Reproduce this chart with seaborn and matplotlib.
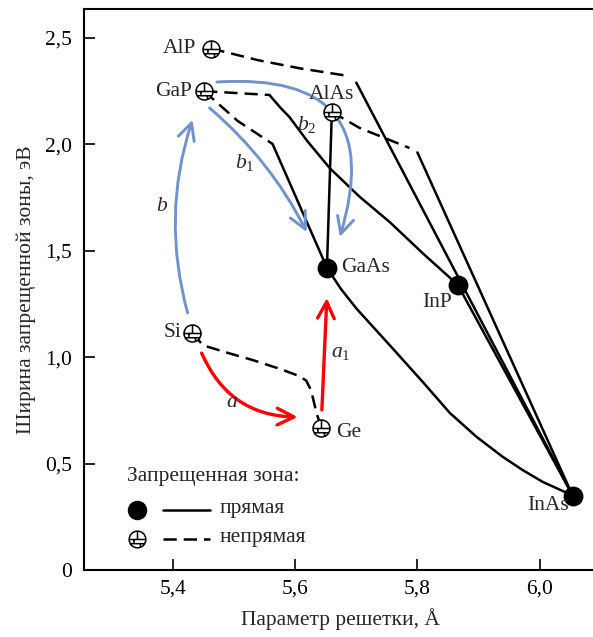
import numpy as np
import matplotlib
matplotlib.use("Agg")
import matplotlib.pyplot as plt
from matplotlib.path import Path
import seaborn as sns

# compounds: lattice constant (A) and band gap (eV)
compounds = ["AlP", "GaP", "AlAs", "GaAs", "InP", "InAs", "Si", "Ge"]
lattice = [5.463, 5.451, 5.660, 5.652, 5.866, 6.054, 5.432, 5.643]
gap = [2.45, 2.25, 2.152, 1.42, 1.34, 0.35, 1.114, 0.667]
direct = [False, False, False, True, True, True, False, False]

# alloy curves: dashed = indirect part, solid = direct part
alp_inas_ind_x = [5.463, 5.540, 5.608, 5.690]
alp_inas_ind_y = [2.45, 2.395, 2.357, 2.32]
alp_inas_dir_x = [5.700, 6.054]
alp_inas_dir_y = [2.29, 0.35]

gap_inp_ind_x = [5.451, 5.558]
gap_inp_ind_y = [2.25, 2.232]
gap_inp_dir_x = [5.558, 5.575, 5.591, 5.620, 5.657, 5.705, 5.755, 5.810, 5.866]
gap_inp_dir_y = [2.232, 2.175, 2.127, 2.015, 1.887, 1.755, 1.634, 1.485, 1.34]

gap_gaas_ind_x = [5.451, 5.506, 5.563]
gap_gaas_ind_y = [2.25, 2.11, 2.002]
gap_gaas_dir_x = [5.563, 5.652]
gap_gaas_dir_y = [2.002, 1.42]

alas_gaas_x = [5.660, 5.652]
alas_gaas_y = [2.152, 1.42]

alas_inas_ind_x = [5.660, 5.7055, 5.787]
alas_inas_ind_y = [2.152, 2.077, 1.983]
alas_inas_dir_x = [5.800, 6.054]
alas_inas_dir_y = [1.962, 0.35]

gaas_inas_x = [5.652, 5.675, 5.701, 5.7545, 5.809, 5.853, 5.897, 5.940, 5.972, 6.005, 6.054]
gaas_inas_y = [1.42, 1.32, 1.226, 1.057, 0.883, 0.738, 0.625, 0.531, 0.470, 0.414, 0.35]

inp_inas_x = [5.866, 6.054]
inp_inas_y = [1.34, 0.35]

si_ge_x = [5.432, 5.449, 5.490, 5.531, 5.575, 5.606, 5.618, 5.626, 5.635, 5.643]
si_ge_y = [1.114, 1.056, 1.020, 0.986, 0.945, 0.912, 0.890, 0.845, 0.737, 0.667]

# arrows: (start, end, rad, color, label, label position)
BLUE = "#7093cd"
RED = "#ff0000"
arrows = [
    ((5.424, 1.208), (5.432, 2.115), -0.15, BLUE, "$b$", (5.3815, 1.706)),
    ((5.460, 2.171), (5.619, 1.588), -0.10, BLUE, "$b_1$", (5.517, 1.913)),
    ((5.472, 2.293), (5.673, 1.565), -0.72, BLUE, "$b_2$", (5.619, 2.091)),
    ((5.447, 1.019), (5.604, 0.719), 0.32, RED, "$a$", (5.496, 0.789)),
    ((5.6437, 0.752), (5.6518, 1.278), 0.0, RED, "$a_1$", (5.674, 1.020)),
]

# label offsets (points) for compound names
label_offsets = {
    "AlP": (-11, 0, "right"), "GaP": (-8.5, 0, "right"), "AlAs": (0, 12.5, "center"),
    "GaAs": (10.5, 0, "left"), "InP": (-15, -13, "center"), "InAs": (-3, -7, "right"),
    "Si": (-8, 0, "right"), "Ge": (10.5, -3, "left"),
}

sns.set_style("ticks")
plt.rcParams["font.family"] = ["Liberation Serif", "DejaVu Serif"]
plt.rcParams["mathtext.fontset"] = "custom"
plt.rcParams["mathtext.rm"] = "Liberation Serif"
plt.rcParams["mathtext.it"] = "Liberation Serif:italic"
FS = 15.5

# brick-pattern marker for indirect gap
circ = Path.unit_circle()
verts = list(circ.vertices)
codes = list(circ.codes)
for a, b in [((-1, 0), (1, 0)), ((0, 0), (0, 1)), ((-0.87, -0.5), (0.87, -0.5)),
             ((-0.42, 0), (-0.42, -0.5)), ((0.35, -0.5), (0.35, -0.94))]:
    verts += [a, b]
    codes += [Path.MOVETO, Path.LINETO]
brick = Path(verts, codes)

fig = plt.figure(figsize=(5.93, 6.37), dpi=100)
ax = fig.add_axes([84 / 593, 67 / 637, 509 / 593, 561 / 637])

LW = 1.8
DASH = (0, (5.3, 2.8))
solid = [(alp_inas_dir_x, alp_inas_dir_y), (gap_inp_dir_x, gap_inp_dir_y),
         (gap_gaas_dir_x, gap_gaas_dir_y), (alas_gaas_x, alas_gaas_y),
         (alas_inas_dir_x, alas_inas_dir_y), (gaas_inas_x, gaas_inas_y),
         (inp_inas_x, inp_inas_y)]
dashed = [(alp_inas_ind_x, alp_inas_ind_y), (gap_inp_ind_x, gap_inp_ind_y),
          (gap_gaas_ind_x, gap_gaas_ind_y), (alas_inas_ind_x, alas_inas_ind_y),
          (si_ge_x, si_ge_y)]
for xs, ys in solid:
    sns.lineplot(x=xs, y=ys, sort=False, estimator=None, color="black", lw=LW, ax=ax, zorder=2)
for xs, ys in dashed:
    sns.lineplot(x=xs, y=ys, sort=False, estimator=None, color="black", lw=LW,
                 linestyle=DASH, ax=ax, zorder=2)

# arrows
for (x0, y0), (x1, y1), rad, col, lab, (lx, ly) in arrows:
    ax.annotate("", xy=(x1, y1), xytext=(x0, y0),
                arrowprops=dict(arrowstyle="->,head_length=0.8,head_width=0.4",
                                connectionstyle=f"arc3,rad={rad}", color=col,
                                lw=2.1 if col == BLUE else 2.4, shrinkA=0, shrinkB=0,
                                mutation_scale=15), zorder=3)
    ax.text(lx, ly, lab, fontsize=FS, ha="center", va="center")

# points
dx = [x for x, d in zip(lattice, direct) if d]
dy = [y for y, d in zip(gap, direct) if d]
ix = [x for x, d in zip(lattice, direct) if not d]
iy = [y for y, d in zip(gap, direct) if not d]
sns.scatterplot(x=dx, y=dy, s=175, color="black", edgecolor="black", ax=ax, zorder=4)
sns.scatterplot(x=ix, y=iy, s=150, marker=brick, color="white", edgecolor="black",
                linewidth=1.1, ax=ax, zorder=4)

for name, x, y in zip(compounds, lattice, gap):
    ox, oy, ha = label_offsets[name]
    ax.annotate(name, (x, y), xytext=(ox, oy), textcoords="offset points",
                ha=ha, va="center", fontsize=FS, zorder=5)

# legend (drawn by hand)
ax.text(0.0845, 0.166, "Запрещенная зона:", transform=ax.transAxes, fontsize=FS,
        ha="left", va="center")
ax.plot([0.104], [0.107], transform=ax.transAxes, marker="o", ms=13, color="black", ls="none")
ax.plot([0.155, 0.248], [0.107, 0.107], transform=ax.transAxes, color="black", lw=LW)
ax.text(0.267, 0.110, "прямая", transform=ax.transAxes, fontsize=FS, ha="left", va="center")
ax.plot([0.104], [0.055], transform=ax.transAxes, marker=brick, ms=12, mfc="white",
        mec="black", mew=1.1, ls="none")
ax.plot([0.155, 0.248], [0.055, 0.055], transform=ax.transAxes, color="black", lw=LW,
        linestyle=DASH)
ax.text(0.267, 0.058, "непрямая", transform=ax.transAxes, fontsize=FS, ha="left", va="center")

ax.set_xlim(5.2545, 6.0873)
ax.set_ylim(0, 2.636)
ax.set_xticks([5.4, 5.6, 5.8, 6.0])
ax.set_xticklabels(["5,4", "5,6", "5,8", "6,0"])
ax.set_yticks([0, 0.5, 1.0, 1.5, 2.0, 2.5])
ax.set_yticklabels(["0", "0,5", "1,0", "1,5", "2,0", "2,5"])
ax.tick_params(direction="in", length=8, width=1.2, labelsize=FS, colors="black")
ax.tick_params(axis="y", pad=8.5)
ax.tick_params(axis="x", pad=7)
for side in ["left", "top", "bottom"]:
    ax.spines[side].set_linewidth(1.5)
    ax.spines[side].set_color("black")
ax.spines["right"].set_visible(False)

ax.set_xlabel("Параметр решетки, Å", fontsize=FS)
ax.set_ylabel("Ширина запрещенной зоны, эВ", fontsize=FS)
ax.xaxis.set_label_coords(0.503, -0.068)
ax.yaxis.set_label_coords(-0.094, 0.5)

fig.savefig("out.png", dpi=100)
